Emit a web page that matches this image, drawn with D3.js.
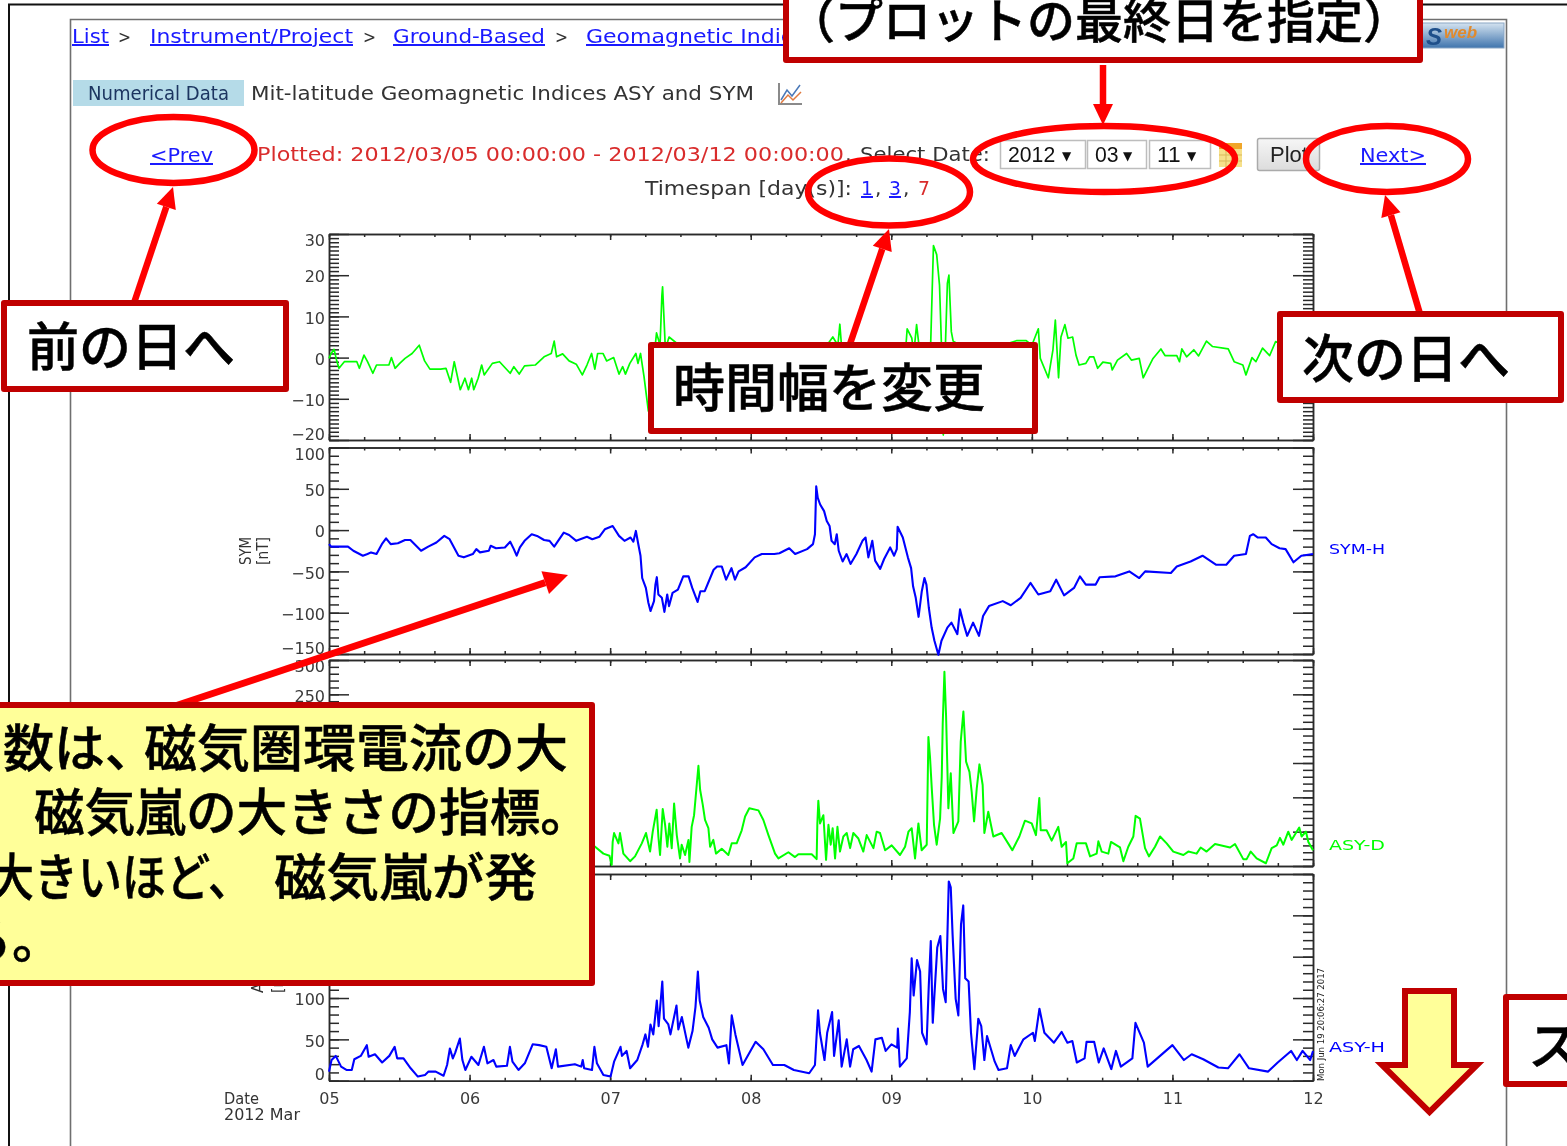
<!DOCTYPE html>
<html><head><meta charset="utf-8">
<script src="https://cdn.jsdelivr.net/npm/d3@7"></script>
<style>html,body{margin:0;padding:0;background:#fff;overflow:hidden}svg{display:block;filter:blur(0.35px)}</style>
</head><body><svg id="c" width="1567" height="1146"></svg>
<script>
// ---------- data (days after 2012-03-05 00:00, values in nT) ----------
const dayLabels = ["05","06","07","08","09","10","11","12"];
const symDT = [0,.015,.036,.053,.071,.109,.198,.216,.249,.274,.312,.338,.426,.444,.47,.503,.541,.591,.642,.68,.718,.794,.832,.865,.891,.934,.967,.992,1.015,1.03,1.061,1.086,1.104,1.162,1.213,1.289,1.315,1.353,1.391,1.467,1.53,1.581,1.602,1.619,1.662,1.708,1.759,1.802,1.835,1.868,1.891,1.911,1.949,1.975,2.025,2.063,2.089,2.109,2.14,2.183,2.198,2.216,2.241,2.272,2.33,2.355,2.368,2.373,2.393,2.419,2.6,2.9,3.2,3.5,3.584,3.62,3.634,3.65,3.9,4.1,4.113,4.146,4.16,4.18,4.2,4.28,4.3,4.323,4.343,4.357,4.37,4.385,4.399,4.41,4.427,4.44,4.6,4.89,4.96,5,5.046,5.06,5.117,5.15,5.167,5.19,5.207,5.235,5.257,5.29,5.314,5.336,5.384,5.412,5.44,5.468,5.505,5.561,5.572,5.609,5.674,5.708,5.764,5.792,5.862,5.918,5.947,6.031,6.05,6.067,6.101,6.152,6.186,6.242,6.284,6.397,6.439,6.501,6.523,6.566,6.594,6.641,6.692,6.734,6.85,7];
const symDV = [-.2,1,2,-.5,-2.6,-1,-1,-2.6,.6,-1,-3.8,-1.8,-1.8,0,-2.6,-1.4,-.2,1,3,-.8,-2.8,-2.8,-2.6,-6,-1,-7.8,-5,-7.8,-5,-7.8,-5,-1.8,-4.2,-1.4,-1,-3.8,-2.2,-4,-2,-1.8,.2,1,4,.2,.9,-.8,-1.6,-4.2,-1.8,1,-2.8,1,1,-.8,0,-4,-2.2,-4,-1.4,1,-1.4,1,-4.6,-13,6,3,15,17.2,2,5,0,-3,-1,1,5,3,8.1,1,0,1,7,4.7,1,8,2,3,27.2,25,17.6,3,-18.8,3,18,20,6.3,4,1,4.1,4.1,3,7,-.2,-4.9,1.9,9.1,-4.9,5,8,4.7,5,.6,-1.8,-1.4,.2,.2,-2.6,-1.1,-1.4,-3,-.6,1,-.6,-.2,-4.9,-.2,2.1,.5,.5,-1,2.1,.2,1.9,.4,4,2.7,2.1,-1,-1.8,-4.2,0,-1,2.3,.5,3.9,2,3];

const symHT = [0,.015,.046,.135,.173,.241,.274,.299,.338,.376,.406,.439,.49,.541,.579,.655,.706,.764,.82,.858,.921,.959,1.023,1.048,1.074,1.137,1.15,1.188,1.251,1.289,1.315,1.335,1.358,1.391,1.442,1.48,1.53,1.569,1.602,1.67,1.708,1.759,1.835,1.873,1.924,1.962,2.018,2.063,2.102,2.145,2.165,2.183,2.198,2.216,2.228,2.254,2.272,2.287,2.312,2.322,2.332,2.343,2.368,2.386,2.406,2.419,2.444,2.482,2.52,2.558,2.584,2.622,2.642,2.673,2.736,2.761,2.794,2.825,2.863,2.888,2.914,2.964,3.028,3.079,3.168,3.204,3.274,3.316,3.401,3.443,3.457,3.466,3.477,3.494,3.522,3.541,3.561,3.575,3.598,3.612,3.626,3.654,3.682,3.71,3.752,3.795,3.817,3.837,3.865,3.885,3.921,3.949,3.992,4.02,4.039,4.045,4.082,4.118,4.141,4.155,4.174,4.194,4.217,4.236,4.25,4.267,4.287,4.307,4.335,4.357,4.399,4.428,4.47,4.489,4.512,4.54,4.582,4.624,4.653,4.695,4.793,4.85,4.92,4.99,5.046,5.131,5.173,5.229,5.3,5.342,5.384,5.454,5.482,5.595,5.693,5.764,5.806,5.989,6.031,6.129,6.214,6.312,6.383,6.439,6.523,6.551,6.574,6.608,6.664,6.706,6.762,6.805,6.861,6.917,7];
const symHV = [-17,-20,-20,-20,-25,-31,-29,-27,-29,-17,-10,-17,-16,-12,-12,-25,-20,-15,-7,-11,-31,-33,-29,-23,-27,-25,-19,-22,-21,-14,-23,-31,-21,-13,-5,-7,-12,-13,-20,-3,-6,-13,-8,-11,-8,1,5,-7,-13,-9,-14,-1,-15,-31,-58,-70,-88,-98,-86,-66,-57,-78,-82,-99,-78,-92,-76,-72,-56,-56,-70,-87,-74,-74,-48,-44,-44,-60,-46,-60,-50,-45,-33,-29,-29,-28,-22,-29,-23,-17,-5,53,39,31,23,11,5,-13,-17,-5,-25,-38,-29,-41,-29,-13,-9,-33,-13,-37,-47,-35,-21,-31,-23,4,-9,-33,-46,-68,-82,-105,-74,-58,-66,-94,-118,-134,-151,-134,-118,-112,-126,-96,-112,-128,-112,-128,-104,-92,-86,-91,-82,-64,-78,-74,-60,-79,-70,-56,-66,-66,-57,-56,-50,-58,-50,-52,-44,-38,-31,-42,-42,-31,-29,-7,-5,-9,-9,-17,-22,-23,-39,-31,-29];

const asyDT = [0,.5,1,1.5,1.88,1.893,1.952,1.995,2.011,2.018,2.028,2.059,2.07,2.094,2.142,2.177,2.225,2.255,2.284,2.303,2.331,2.343,2.355,2.374,2.391,2.407,2.421,2.438,2.455,2.474,2.497,2.509,2.533,2.557,2.564,2.58,2.597,2.628,2.64,2.659,2.675,2.699,2.711,2.734,2.753,2.794,2.841,2.865,2.9,2.936,2.96,2.99,3.055,3.09,3.126,3.173,3.197,3.268,3.315,3.339,3.434,3.469,3.474,3.481,3.493,3.517,3.536,3.553,3.569,3.583,3.6,3.617,3.635,3.659,3.683,3.707,3.73,3.766,3.801,3.825,3.873,3.896,3.92,3.956,4.003,4.062,4.098,4.122,4.145,4.169,4.193,4.216,4.252,4.264,4.276,4.288,4.304,4.323,4.347,4.359,4.366,4.378,4.39,4.406,4.423,4.442,4.477,4.494,4.513,4.532,4.556,4.572,4.589,4.608,4.627,4.65,4.662,4.69,4.726,4.785,4.84,4.861,4.911,4.951,4.999,5.029,5.053,5.063,5.105,5.141,5.188,5.212,5.243,5.252,5.295,5.319,5.385,5.414,5.461,5.473,5.497,5.544,5.563,5.627,5.651,5.686,5.722,5.738,5.769,5.805,5.833,5.876,5.912,5.959,6.006,6.078,6.113,6.172,6.201,6.243,6.303,6.41,6.445,6.504,6.528,6.557,6.599,6.665,6.706,6.742,6.765,6.789,6.824,6.848,6.902,6.919,6.95,6.967,7];
const asyDV = [20,35,30,30,30,28,18,15,1.5,35,48,33,48,18,7,14,33,48,21,50,82,43,16,83,60,28,62,26,91,45,11,31,16,38,6,57,74,146,111,89,67,55,28,38,18,25,16,33,33,52,72,84,81,67,45,18,11,20,13,17,17,10,62,95,62,74,9,60,31,55,11,57,21,43,48,26,48,40,21,45,26,50,48,23,30,16,28,50,55,11,62,23,31,188,157,113,60,31,69,130,208,283,217,84,135,48,65,181,225,152,137,108,65,113,148,118,48,79,43,48,30,23,43,66,62,45,99,52,52,37,57,28,35,4,11,33,33,14,18,36,21,18,35,27,7,28,43,73,69,26,14,28,43,33,21,16,21,18,27,21,32,27,32,10,10,21,11,4,26,30,41,31,50,38,56,43,50,35,23];

const asyHT = [0,.018,.048,.086,.124,.162,.18,.226,.269,.282,.327,.378,.429,.467,.485,.53,.581,.632,.683,.708,.759,.815,.84,.86,.881,.898,.931,.949,.97,1.013,1.063,1.102,1.127,1.17,1.19,1.266,1.287,1.305,1.348,1.393,1.449,1.495,1.546,1.584,1.614,1.629,1.749,1.794,1.805,1.815,1.871,1.888,1.906,1.952,2.003,2.028,2.074,2.084,2.117,2.142,2.193,2.231,2.251,2.269,2.287,2.307,2.332,2.345,2.371,2.383,2.414,2.429,2.472,2.485,2.51,2.556,2.586,2.607,2.624,2.637,2.662,2.701,2.726,2.764,2.827,2.845,2.865,2.891,2.942,3.035,3.09,3.158,3.239,3.307,3.416,3.457,3.479,3.492,3.525,3.544,3.579,3.593,3.626,3.647,3.683,3.707,3.729,3.77,3.824,3.86,3.887,3.933,3.96,4.001,4.042,4.047,4.061,4.11,4.132,4.145,4.159,4.183,4.205,4.219,4.251,4.267,4.281,4.295,4.327,4.349,4.368,4.387,4.409,4.423,4.436,4.458,4.477,4.496,4.512,4.526,4.55,4.567,4.591,4.619,4.64,4.662,4.681,4.736,4.763,4.823,4.85,4.878,4.94,5.008,5.021,5.054,5.089,5.157,5.212,5.253,5.288,5.32,5.375,5.389,5.443,5.476,5.511,5.565,5.598,5.633,5.715,5.737,5.797,5.824,6,6.082,6.137,6.219,6.327,6.395,6.477,6.545,6.681,6.749,6.844,6.885,6.926,6.98,7];
const asyHV = [11,25,30,17,13,13,26,30,43,29,32,22,30,41,27,27,15,5,7,11,11,6,19,39,27,34,51,25,13,29,19,41,21,25,17,18,41,23,13,21,44,43,41,15,38,17,20,17,25,15,13,41,21,7,5,23,41,30,36,15,25,44,56,41,68,56,97,66,120,75,68,56,91,62,77,40,60,89,132,97,77,64,50,40,43,21,79,56,19,47,38,19,19,13,9,19,85,58,25,58,83,30,73,17,50,17,38,42,25,11,50,52,36,44,40,63,17,27,83,148,103,146,132,58,44,116,169,70,161,175,111,95,241,234,177,99,79,189,212,124,120,58,14,75,66,25,54,23,13,15,43,30,50,58,48,87,58,46,59,46,48,22,27,47,47,22,39,14,36,17,27,70,46,17,43,25,32,26,16,15,32,15,11,22,36,25,36,25,36];

const panelNames = ["SYM-H","ASY-D","ASY-H"];

// ---------- helpers ----------
const svg = d3.select("#c");
const JP = "'Noto Sans CJK JP'";
const MONO = "'DejaVu Sans'";
function T(x,y,s,o={}){
  const t = svg.append("text").attr("x",x).attr("y",y).text(s)
    .attr("font-family",o.f||MONO).attr("font-size",o.s||20).attr("fill",o.c||"#333");
  if(o.w) t.attr("font-weight",o.w);
  if(o.a) t.attr("text-anchor",o.a);
  if(o.len) t.attr("textLength",o.len).attr("lengthAdjust","spacingAndGlyphs");
  if(o.u) t.attr("text-decoration","underline");
  if(o.st) t.attr("font-style",o.st);
  if(o.sk) t.attr("stroke",o.c||"#000").attr("stroke-width",o.sk);
  return t;
}
const LINK="#1a1aff";
function frame(x,y,w,h,fill){
  svg.append("rect").attr("x",x).attr("y",y).attr("width",w).attr("height",h)
    .attr("fill",fill).attr("stroke","#c00000").attr("stroke-width",6).attr("stroke-linejoin","round");
}
function ring(cx,cy,rx,ry){
  svg.append("ellipse").attr("cx",cx).attr("cy",cy).attr("rx",rx).attr("ry",ry)
    .attr("fill","none").attr("stroke","#ff0000").attr("stroke-width",6.5);
}
function arrow(x1,y1,x2,y2,L,H,W){
  const d=Math.hypot(x2-x1,y2-y1),ux=(x2-x1)/d,uy=(y2-y1)/d,bx=x2-ux*L,by=y2-uy*L;
  svg.append("line").attr("x1",x1).attr("y1",y1).attr("x2",bx).attr("y2",by)
    .attr("stroke","#ff0000").attr("stroke-width",W);
  svg.append("polygon").attr("fill","#ff0000")
    .attr("points",[[x2,y2],[bx-uy*H,by+ux*H],[bx+uy*H,by-ux*H]].join(" "));
}

// ---------- page frames ----------
svg.append("path").attr("d","M9,1146V4.5H1567").attr("fill","none").attr("stroke","#111").attr("stroke-width",2);
svg.append("path").attr("d","M70.5,1146V19.5H1506.5V1146").attr("fill","none").attr("stroke","#6f6f6f").attr("stroke-width",1.6);

// ---------- header ----------
T(72,43,"List",{c:LINK,u:1,len:37});
T(118,43,">",{s:18,len:13});
T(150,43,"Instrument/Project",{c:LINK,u:1,len:203});
T(363,43,">",{s:18,len:13});
T(393,43,"Ground-Based",{c:LINK,u:1,len:152});
T(555,43,">",{s:18,len:13});
T(586,43,"Geomagnetic Indices",{c:LINK,u:1,len:232});
const logo = svg.append("defs").append("linearGradient").attr("id","lg").attr("x1",0).attr("y1",0).attr("x2",0).attr("y2",1);
logo.append("stop").attr("offset",0).attr("stop-color","#d4e3f0");
logo.append("stop").attr("offset",1).attr("stop-color","#3f74ad");
svg.append("rect").attr("x",1400).attr("y",23).attr("width",104).attr("height",25).attr("fill","url(#lg)").attr("stroke","#8aa6c4");
T(1426,45,"S",{f:"'Liberation Sans'",s:24,w:700,st:"italic",c:"#1f4f8a"});
T(1444,38,"web",{f:"'Liberation Sans'",s:17,w:700,st:"italic",c:"#e08a2e"});

svg.append("rect").attr("x",73).attr("y",80).attr("width",171).attr("height",26).attr("fill","#b5dbe8");
T(88,100,"Numerical Data",{c:"#1c3560",len:141});
T(251,100,"Mit-latitude Geomagnetic Indices ASY and SYM",{len:503});
svg.append("path").attr("d","M779,83V104H802").attr("fill","none").attr("stroke","#8a8a8a").attr("stroke-width",2);
svg.append("path").attr("d","M781,100L787,90L792,96L800,85").attr("fill","none").attr("stroke","#4a78b8").attr("stroke-width",1.5);
svg.append("path").attr("d","M781,103L788,95L793,100L801,92").attr("fill","none").attr("stroke","#e07a40").attr("stroke-width",1.5);

T(150,162,"<Prev",{c:LINK,u:1,len:63});
T(257,161,"Plotted: 2012/03/05 00:00:00 - 2012/03/12 00:00:00",{c:"#d92c2c",len:587});
T(845,161,",",{});
T(860,161,"Select Date:",{len:130});
T(645,195,"Timespan [day(s)]:",{len:207});
T(861,195,"1",{c:LINK,u:1,len:12}); T(875,195,",",{});
T(889,195,"3",{c:LINK,u:1,len:12}); T(903,195,",",{});
T(918,195,"7",{c:"#d92c2c",len:12});

[[1000,85,"2012"],[1087,59,"03"],[1149,61,"11"]].forEach(([x,w,s])=>{
  svg.append("rect").attr("x",x+.5).attr("y",140.5).attr("width",w).attr("height",28).attr("fill","#fff").attr("stroke","#bdbdbd").attr("stroke-width",1.5);
  T(x+8,162,s,{f:"'Liberation Sans'",s:22,c:"#111",len:s.length*11.8});
  T(x+w-23,160,"▼",{s:12,c:"#111"});
});
svg.append("rect").attr("x",1219).attr("y",143).attr("width",23).attr("height",24).attr("fill","#f6e08a");
svg.append("rect").attr("x",1219).attr("y",143).attr("width",23).attr("height",6).attr("fill","#f0a62a");
svg.append("path").attr("d","M1219,155H1242M1219,161H1242M1226,149V167M1234,149V167").attr("stroke","#d9b95a").attr("stroke-width",1);
const btn = svg.select("defs").append("linearGradient").attr("id","bt").attr("x1",0).attr("y1",0).attr("x2",0).attr("y2",1);
btn.append("stop").attr("offset",0).attr("stop-color","#f6f6f6");
btn.append("stop").attr("offset",1).attr("stop-color","#dcdcdc");
svg.append("rect").attr("x",1257.5).attr("y",138.5).attr("width",62).attr("height",32).attr("rx",2).attr("fill","url(#bt)").attr("stroke","#aaa").attr("stroke-width",1.5);
T(1270,162,"Plot",{f:"'Liberation Sans'",s:22,c:"#222"});
T(1360,162,"Next>",{c:LINK,u:1,len:66});

// ---------- panels ----------
const x = d3.scaleLinear().domain([0,7]).range([329,1313]);
const quarter = d3.range(0,28.5).map(i=>i/4);
const days = d3.range(0,8);
const seq = (a,b,s)=>d3.range(0,Math.round((b-a)/s)+1).map(i=>a+i*s);
const fmt = v=>String(v).replace("-","\u2212");

const panels = [
 {t:234,b:440,dom:[-20,30],maj:10,min:1,T:symDT,V:symDV,col:"#00ff00",sw:1.7},
 {t:447.5,b:654,dom:[-150,100],maj:50,min:10,T:symHT,V:symHV,col:"#0000ff",sw:2.1,yt:["SYM","[nT]"],ytx:[251,268],ytb:565,lab:0,laby:554},
 {t:660,b:866,dom:[0,300],maj:50,min:10,T:asyDT,V:asyDV,col:"#00ff00",sw:2,lab:1,laby:850},
 {t:874,b:1080.7,dom:[0,250],maj:50,min:10,T:asyHT,V:asyHV,col:"#0000ff",sw:2.1,yt:["ASY","[nT]"],ytx:[263,283],ytb:993,lab:2,laby:1052,last:1}
];
panels.forEach(p=>{
  const Y = d3.scaleLinear().domain(p.dom).range([p.b,p.t]);
  const g = svg.append("g").attr("font-family",MONO).attr("color","#2a2a2a");
  const place=(ax,tx,ty)=>{const s=g.append("g").attr("transform",`translate(${tx},${ty})`).call(ax);
    s.attr("font-family",MONO).attr("font-size",16); s.selectAll("text").attr("fill","#3a3a3a");
    s.selectAll("line,path").attr("stroke-width",1.5); return s;};
  const mins=seq(p.dom[0],p.dom[1],p.min), majs=seq(p.dom[0],p.dom[1],p.maj);
  place(d3.axisLeft(Y).tickValues(mins).tickSizeInner(-10).tickSizeOuter(0).tickFormat(""),x(0),0);
  const ml=place(d3.axisLeft(Y).tickValues(majs).tickSizeInner(-20).tickSizeOuter(0).tickPadding(4).tickFormat(fmt),x(0),0);
  ml.selectAll("text").attr("dy",d=>d===p.dom[1]?"0.72em":d===p.dom[0]?"-0.05em":"0.42em");
  place(d3.axisRight(Y).tickValues(mins).tickSizeInner(-10).tickSizeOuter(0).tickFormat(""),x(7),0);
  place(d3.axisRight(Y).tickValues(majs).tickSizeInner(-20).tickSizeOuter(0).tickFormat(""),x(7),0);
  place(d3.axisTop(x).tickValues(quarter).tickSizeInner(-3).tickSizeOuter(0).tickFormat(""),0,p.t);
  place(d3.axisTop(x).tickValues(days).tickSizeInner(-6).tickSizeOuter(0).tickFormat(""),0,p.t);
  place(d3.axisBottom(x).tickValues(quarter).tickSizeInner(-3).tickSizeOuter(0).tickFormat(""),0,p.b);
  place(d3.axisBottom(x).tickValues(days).tickSizeInner(-6).tickSizeOuter(0).tickPadding(12)
      .tickFormat(p.last?(d=>dayLabels[d]):""),0,p.b);
  const line = d3.line().x(d=>x(d[0])).y(d=>Y(d[1]));
  g.append("path").datum(d3.zip(p.T,p.V)).attr("fill","none").attr("stroke",p.col)
    .attr("stroke-width",p.sw).attr("stroke-linejoin","round").attr("d",line);
  if(p.lab!==undefined) T(1329,p.laby,panelNames[p.lab],{s:14,c:p.col,len:56});
  if(p.yt) p.yt.forEach((s,i)=>{
    svg.append("text").attr("transform",`translate(${p.ytx[i]},${p.ytb}) rotate(-90)`).text(s)
      .attr("font-family",MONO).attr("font-size",16).attr("fill","#333")
      .attr("textLength",28).attr("lengthAdjust","spacingAndGlyphs");
  });
});
T(224,1104,"Date",{s:15,len:35});
T(224,1120,"2012 Mar",{s:15,len:76});
svg.append("text").attr("transform","translate(1324,1081) rotate(-90)").text("Mon Jun 19 20:06:27 2017")
  .attr("font-family",MONO).attr("font-size",9).attr("fill","#222").attr("textLength",113).attr("lengthAdjust","spacingAndGlyphs");

// ---------- annotations ----------
ring(173.5,150,81,33); ring(889,192,81,33.5); ring(1104,159,131,33); ring(1387,159,81,33);
arrow(134,303,173,187,21,10,6.5);
arrow(1103,65,1103,125,21,10,6.5);
arrow(850,344,889,229,21,10,6.5);
arrow(1420,314,1385,195,21,10,6.5);
arrow(175,706,568,575,24,12,7);

const J={f:JP,w:500,c:"#000",sk:0.5};
frame(786,-10,634,70,"#fff");
T(787,38,"（プロットの最終日を指定）",{...J,s:48});
frame(4,303,282,86,"#fff");
T(27,366,"前の日へ",{...J,s:52});
frame(1280,314,281,86,"#fff");
T(1302,378,"次の日へ",{...J,s:52});
frame(651,345,384,86,"#fff");
T(673,407,"時間幅を変更",{...J,s:52});
frame(-10,705,602,278,"#ffff99");
T(3,767,"数は、",{...J,s:51});
T(144,767,"磁気圏環電流の大",{...J,s:51,len:424});
T(-20,831,"、",{...J,s:51});
T(34,831,"磁気嵐の大きさの指標。",{...J,s:51,len:557});
T(-10,896,"大きいほど、",{...J,s:51,len:262});
T(274,896,"磁気嵐が発",{...J,s:51,len:263});
T(-39,958,"る。",{...J,s:51});
svg.append("polygon").attr("points","1405,991 1454,991 1454,1065 1477,1065 1429.5,1112 1382,1065 1405,1065")
  .attr("fill","#ffff99").attr("stroke","#c00000").attr("stroke-width",6);
frame(1506,997,80,87,"#fff");
T(1528,1065,"ス",{...J,s:52});
</script></body></html>
